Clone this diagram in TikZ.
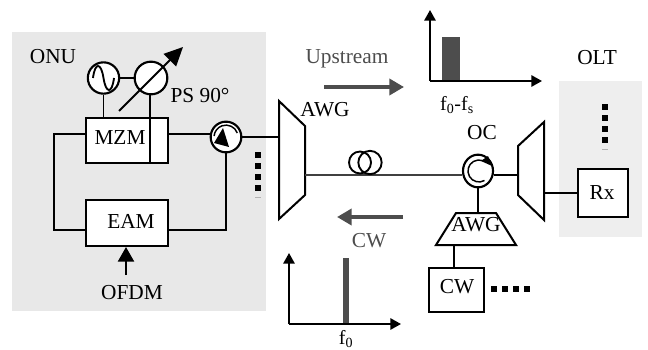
\documentclass[tikz,border=0pt]{standalone}
\usepackage{fontspec}
\setmainfont{Liberation Serif}
\usetikzlibrary{arrows.meta,shapes.geometric,calc}
\definecolor{onubg}{HTML}{E8E8E8}
\definecolor{oltbg}{HTML}{EEEEEE}
\definecolor{dk}{HTML}{4D4D4D}
\tikzset{
  x=0.75pt,y=-0.75pt,
  wire/.style={line width=1.3pt,black},
  boxn/.style={draw=black,line width=1.5pt,fill=white,inner sep=0pt,anchor=north west},
  ring/.style={draw=black,line width=1.6pt,fill=white,circle,inner sep=0pt},
  lbl/.style={inner sep=0pt,font=\fontsize{16}{18}\selectfont,text=black},
  gl/.style={lbl,text=dk},
  small/.style={lbl,font=\fontsize{15}{17}\selectfont},
  dot/.style={fill=black,minimum size=4.2pt,inner sep=0pt,draw=none,rectangle},
  faint/.style={fill=black!30,minimum width=4.2pt,minimum height=0.6pt,inner sep=0pt,draw=none,rectangle},
  axis/.style={line width=1.4pt,-{Triangle[length=8pt,width=8.5pt]}},
  grayarrow/.style={draw=dk,line width=2.8pt,-{Triangle[length=11pt,width=12pt]}},
  barfill/.style={fill=dk,draw=none,inner sep=0pt,anchor=south west},
}
\begin{document}
\begin{tikzpicture}
\useasboundingbox (0,0) rectangle (648,349);
\fill[onubg] (12,32) rectangle (266,311);
\fill[oltbg] (559,81) rectangle (642,237);

% boxes
\node[boxn,minimum width=61.5pt,minimum height=33.75pt] (mzm) at (85,117) {};
\node[lbl] (mzmt) at (120,138) {MZM};
\node[boxn,minimum width=61.5pt,minimum height=34.5pt] (eam) at (85,199) {};
\node[lbl] (eamt) at (131,221) {EAM};
\node[boxn,minimum width=37.5pt,minimum height=36pt] (rx) at (577,168) {};
\node[lbl] at (602,193) {Rx};
\node[boxn,minimum width=41pt,minimum height=33pt] (cw) at (428,267) {};
\node[lbl] at (457,287) {CW};

% ONU modulator drive
\node[ring,minimum size=23.5pt] (osc) at (103.5,78) {};
\node[ring,minimum size=24.5pt] (ps) at (151,78) {};
\draw[line width=1.4pt] (93,78) .. controls (95,62) and (101,62) .. (103.5,78) .. controls (106,94) and (112,94) .. (114,78);
\draw[wire] (osc) -- (ps);
\coordinate (mzmp) at (150,162);
\draw[wire] (osc.south) -- (osc.south |- mzm.north);
\draw[wire] (mzmp |- ps.south) -- (mzmp);
\coordinate (pss) at (119,111);
\coordinate (pse) at (183,47);
\draw[line width=1.5pt,-{Triangle[length=14pt,width=13pt]}] (pss) -- (pse);

% circulators
\node[ring,minimum size=23pt] (c1) at (226,137) {};
\draw[line width=1.1pt] (237.3,133) arc (-20:-175:12);
\fill (223,128) -- (229,147) -- (214,143) -- cycle;

\node[ring,ellipse,minimum width=22.5pt,minimum height=24.5pt] (oc) at (478,171) {};
\draw[line width=1.1pt] (484.5,180.5) arc (60:290:11);
\fill (481,161) -- (488,156) -- (492,166) -- cycle;

% AWG shapes
\draw[line width=1.5pt,fill=white] (279,101) -- (305,126) -- (305,195) -- (279,219) -- cycle;
\coordinate (a1w) at (279,137);
\coordinate (a1e) at (305,175);
\draw[line width=1.5pt,fill=white] (544,122) -- (518,146) -- (518,195) -- (544,220) -- cycle;
\coordinate (a2w) at (518,175);
\coordinate (a2e) at (544,193);
\draw[line width=1.5pt,fill=white] (456,213) -- (496,213) -- (516,245) -- (436,245) -- cycle;
\coordinate (a3n) at (477,213);
\coordinate (a3s) at (454,245);
\node[lbl] at (476,225) {AWG};

% connectors
\coordinate (ml) at (85,134);
\coordinate (mr) at (167,134);
\coordinate (el) at (85,230);
\coordinate (er) at (167,230);
\draw[wire] (ml) -| (54,230) -- (el);
\draw[wire] (er) -| (c1.south);
\draw[wire] (mr) -- (c1.west |- mr);
\draw[wire] (c1.east) -- (a1w);
\draw[line width=1.3pt,black!75] (a1e) -- (oc.west |- a1e);
\draw[wire] (oc.east |- a2w) -- (a2w);
\draw[wire] (oc.south) -- (oc.south |- a3n);
\draw[wire] (a3s) -- (cw.north -| a3s);
\draw[wire] (a2e) -- (rx.west |- a2e);

% fibre coil
\node[draw=black,line width=1.4pt,circle,minimum size=16.5pt,inner sep=0pt] (f1) at (360,162.5) {};
\node[draw=black,line width=1.4pt,circle,minimum size=17.5pt,inner sep=0pt] (f2) at (370,162.5) {};

% dots
\foreach \n/\y in {1/155,2/166,3/177,4/188} \node[dot] (da\n) at (258,\y) {};
\node[faint] (da5) at (258,197) {};
\foreach \n/\y in {1/107,2/118,3/129,4/140} \node[dot] (db\n) at (605,\y) {};
\node[faint] (db5) at (605,149) {};
\foreach \n/\x in {1/494,2/505,3/516,4/527} \node[dot] (dc\n) at (\x,289) {};

% OFDM
\node[lbl] (ofdm) at (132,293) {OFDM};
\coordinate (of) at (126,275);
\draw[line width=1.8pt,-{Triangle[length=11pt,width=12pt]}] (of) -- (eam.south -| of);

% labels
\node[lbl] at (53,57) {ONU};
\node[lbl] at (200,96) {PS 90°};
\node[lbl] at (325,110) {AWG};
\node[gl] at (347,59) {Upstream};
\node[gl] at (369,241) {CW};
\node[lbl] at (597,58) {OLT};
\node[lbl] at (482,133) {OC};

% travel arrows
\coordinate (up1) at (324,87); \coordinate (up2) at (404,87);
\draw[grayarrow] (up1) -- (up2);
\coordinate (cw1) at (403,217); \coordinate (cw2) at (337,217);
\draw[grayarrow] (cw1) -- (cw2);

% spectrum 1
\coordinate (o1) at (430,81);
\node[barfill,minimum width=13pt,minimum height=33pt] (bar1) at (442,81) {};
\draw[axis] (o1) -- (430,10);
\draw[axis] (o1) -- (542,81);
\node[small] at (457,105) {f\textsubscript{0}-f\textsubscript{s}};

% spectrum 2
\coordinate (o2) at (289,324);
\node[barfill,minimum width=4.5pt,minimum height=49pt] (bar2) at (343,324) {};
\draw[axis] (o2) -- (289,253);
\draw[axis] (o2) -- (401,324);
\node[small] at (346,339) {f\textsubscript{0}};
\end{tikzpicture}
\end{document}
